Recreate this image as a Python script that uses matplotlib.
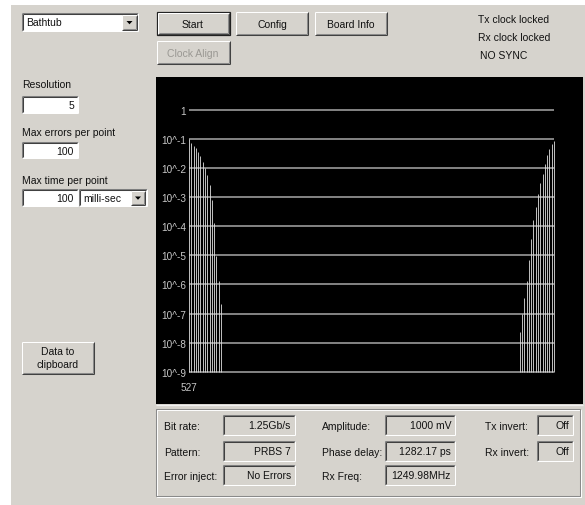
import matplotlib
matplotlib.use("Agg")
import matplotlib.pyplot as plt
from matplotlib.patches import Rectangle, Polygon
from matplotlib.ticker import NullLocator

# bathtub data (phase step -> bit error rate)
left_steps = list(range(0, 15))
left_ber = [1.0e-1, 7.2e-2, 6.0e-2, 4.9e-2, 3.5e-2, 2.6e-2, 1.6e-2, 1.0e-2,
            6.0e-3, 2.7e-3, 7.8e-4, 1.3e-4, 9.5e-6, 1.3e-6, 2.2e-7]
right_steps = list(range(145, 161))
right_ber = [2.3e-8, 9.5e-8, 3.4e-7, 1.3e-6, 7.2e-6, 3.7e-5, 1.7e-4, 4.6e-4,
             1.3e-3, 3.1e-3, 6.3e-3, 1.4e-2, 2.9e-2, 4.7e-2, 6.8e-2, 8.3e-2]
ber_floor = 1e-9
grid_vals = [1, 1e-1, 1e-2, 1e-3, 1e-4, 1e-5, 1e-6, 1e-7, 1e-8, 1e-9]
grid_labels = ["1", "10^-1", "10^-2", "10^-3", "10^-4", "10^-5",
               "10^-6", "10^-7", "10^-8", "10^-9"]
corner_label = "527"

# gui texts
status_lines = ["Tx clock locked", "Rx clock locked", "NO SYNC"]
top_buttons = ["Start", "Config", "Board Info"]
settings_labels = ["Resolution", "Max errors per point", "Max time per point"]
settings_values = ["5", "100", "100"]
info_labels = ["Bit rate:", "Pattern:", "Error inject:",
               "Amplitude:", "Phase delay:", "Rx Freq:",
               "Tx invert:", "Rx invert:"]
info_values = ["1.25Gb/s", "PRBS 7", "No Errors",
               "1000 mV", "1282.17 ps", "1249.98MHz",
               "Off", "Off"]

W, H = 585, 506
BG = "#d6d3cd"
FONT = "Liberation Sans"
FS = 7.5

fig = plt.figure(figsize=(W / 100, H / 100), dpi=100)
fig.patch.set_facecolor("white")
ui = fig.add_axes([0, 0, 1, 1])
ui.set_xlim(0, W)
ui.set_ylim(H, 0)
ui.axis("off")

ui.add_patch(Rectangle((11, 6), W - 11, H - 6, facecolor=BG, edgecolor="none"))


def line(xs, ys, c, lw=0.75):
    ui.plot(xs, ys, color=c, lw=lw, solid_capstyle="butt")


def txt(x, y, s, ha="left", color="#111111", size=FS):
    ui.text(x, y, s, ha=ha, va="center", color=color, fontsize=size, family=FONT)


def raised(x, y, w, h, default=False):
    ui.add_patch(Rectangle((x, y), w, h, facecolor=BG, edgecolor="none"))
    if default:
        ui.add_patch(Rectangle((x, y), w, h, facecolor="none", edgecolor="#202020", lw=0.9))
        x, y, w, h = x + 1, y + 1, w - 2, h - 2
    line([x, x + w], [y, y], "white")
    line([x, x], [y, y + h], "white")
    line([x, x + w], [y + h, y + h], "#404040")
    line([x + w, x + w], [y, y + h], "#404040")
    line([x + 1, x + w - 1], [y + h - 1, y + h - 1], "#8a8a8a")
    line([x + w - 1, x + w - 1], [y + 1, y + h - 1], "#8a8a8a")


def sunken(x, y, w, h, fill="white"):
    ui.add_patch(Rectangle((x, y), w, h, facecolor=fill, edgecolor="none"))
    line([x, x + w], [y, y], "#808080")
    line([x, x], [y, y + h], "#808080")
    line([x + 1, x + w - 1], [y + 1, y + 1], "#404040")
    line([x + 1, x + 1], [y + 1, y + h - 1], "#404040")
    line([x, x + w], [y + h, y + h], "white")
    line([x + w, x + w], [y, y + h], "white")


def arrow_button(x, y, w, h):
    raised(x, y, w, h)
    cx, cy = x + w / 2, y + h / 2
    ui.add_patch(Polygon([[cx - 3, cy - 1.5], [cx + 3, cy - 1.5], [cx, cy + 1.8]],
                         closed=True, facecolor="black", edgecolor="none"))


# top row
sunken(22, 14, 116, 18)
txt(26, 23, "Bathtub")
arrow_button(122, 16, 15, 15)

raised(157, 13, 73, 23, default=True)
txt(193, 24.5, top_buttons[0], ha="center")
raised(236, 13, 72, 23)
txt(272, 24.5, top_buttons[1], ha="center")
raised(315, 13, 72, 23)
txt(351, 24.5, top_buttons[2], ha="center")
raised(157, 42, 73, 23)
txt(193, 53.5, "Clock Align", ha="center", color="#9a9893")

for i, s in enumerate(status_lines):
    txt(478 + (2 if i == 2 else 0), 20 + 18 * i, s)

# left settings
txt(22, 85, settings_labels[0])
sunken(22, 97, 56, 17)
txt(74, 106, settings_values[0], ha="right")
txt(22, 133, settings_labels[1])
sunken(22, 143, 56, 16)
txt(74, 151.5, settings_values[1], ha="right")
txt(22, 181, settings_labels[2])
sunken(22, 190, 56, 17)
txt(74, 199, settings_values[2], ha="right")
sunken(79, 190, 68, 17)
txt(83, 199, "milli-sec")
arrow_button(131, 192, 14, 14)

raised(22, 343, 72, 32)
txt(58, 352, "Data to", ha="center")
txt(58, 365, "clipboard", ha="center")

# plot panel
ui.add_patch(Rectangle((156, 78), 427, 327, facecolor="black", edgecolor="none"))
line([156, 583], [405.5, 405.5], "#f0f0f0", lw=0.9)
txt(181, 388, corner_label, color="#c8c8c8", size=7.2)

# info group box
gx, gy, gw, gh = 156, 410, 424, 87
ui.add_patch(Rectangle((gx + 1, gy + 1), gw, gh, facecolor="none", edgecolor="white", lw=0.75))
ui.add_patch(Rectangle((gx, gy), gw, gh, facecolor="none", edgecolor="#8a8a8a", lw=0.75))

rows_y = [416, 442, 466]
cols = [(164, 223, 72), (322, 385, 70), (485, 537, 36)]
k = 0
for (lx, bx, bw), n in zip(cols, [3, 3, 2]):
    for r in range(n):
        by = rows_y[r]
        txt(lx, by + 11, info_labels[k])
        sunken(bx, by, bw, 20, fill=BG)
        txt(bx + bw - 4, by + 10, info_values[k], ha="right")
        k += 1

# bathtub axes, mapped onto the grid area of the black panel
x0, x1 = 189, 554
y_top, y_bot = 111, 372.7
ax = fig.add_axes([x0 / W, 1 - y_bot / H, (x1 - x0) / W, (y_bot - y_top) / H])
ax.set_facecolor("none")
ax.set_yscale("log")
ax.set_xlim(0, 160)
ax.set_ylim(1e-9, 1)
for sp in ax.spines.values():
    sp.set_visible(False)
ax.set_xticks([])
ax.yaxis.set_minor_locator(NullLocator())
ax.set_yticks(grid_vals)
ax.set_yticklabels(grid_labels)
ax.tick_params(axis="y", length=0, pad=2, labelcolor="#c8c8c8", labelsize=7.2)
for lab in ax.get_yticklabels():
    lab.set_family(FONT)

ax.hlines(grid_vals, 0, 160, color="#a8a8a8", lw=1.1, clip_on=False)
ax.vlines(left_steps, ber_floor, left_ber, color="#e0e0e0", lw=0.6, clip_on=False)
ax.vlines(right_steps, ber_floor, right_ber, color="#e0e0e0", lw=0.6, clip_on=False)

fig.savefig("out.png", dpi=100, facecolor=fig.get_facecolor())
